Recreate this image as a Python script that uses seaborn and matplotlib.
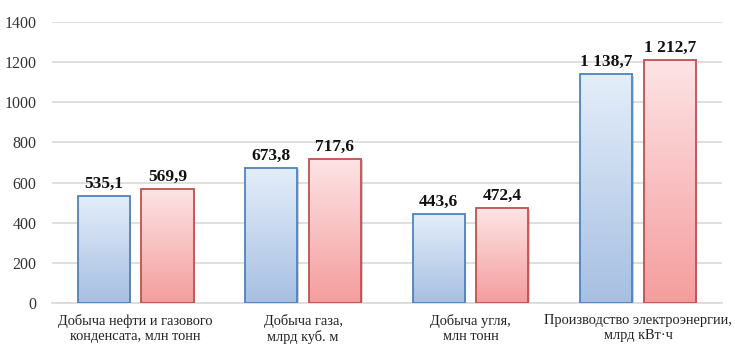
import numpy as np
import pandas as pd
import matplotlib
matplotlib.use("Agg")
import matplotlib.pyplot as plt
import matplotlib.transforms as mtransforms
from matplotlib.colors import LinearSegmentedColormap
from matplotlib.patches import Rectangle
import seaborn as sns

categories = ["Добыча нефти и газового\nконденсата, млн тонн",
              "Добыча газа,\nмлрд куб. м",
              "Добыча угля,\nмлн тонн",
              "Производство электроэнергии,\nмлрд кВт·ч"]
series = ["Ряд 1", "Ряд 2"]
values_1 = [535.1, 673.8, 443.6, 1138.7]
values_2 = [569.9, 717.6, 472.4, 1212.7]
yticks = [0, 200, 400, 600, 800, 1000, 1200, 1400]

df = pd.DataFrame({
    "cat": categories * 2,
    "series": [series[0]] * 4 + [series[1]] * 4,
    "value": values_1 + values_2,
})

sns.set_style("white")
plt.rcParams["font.family"] = ["Liberation Serif", "DejaVu Serif"]

fig = plt.figure(figsize=(7.35, 3.53), dpi=100)
ax = fig.add_axes([0.0707, 0.1416, 0.9113, 0.7961])

edge_cols = ["#4f81bd", "#c0504d"]
sns.barplot(data=df, x="cat", y="value", hue="series", order=categories,
            hue_order=series, palette=edge_cols, width=0.76, gap=0.18,
            legend=False, ax=ax, zorder=3)

# gradient fills
cmaps = [LinearSegmentedColormap.from_list("b", ["#a7bfe2", "#e4eef9"]),
         LinearSegmentedColormap.from_list("r", ["#f49d9d", "#fde4e6"])]
grad = np.linspace(0, 1, 256).reshape(-1, 1)
shadow_tr = mtransforms.offset_copy(ax.transData, fig=fig, x=1.5, y=-1.5, units="dots")
for i, cont in enumerate(ax.containers):
    for p in cont:
        x, y, w, h = p.get_x(), p.get_y(), p.get_width(), p.get_height()
        ax.add_patch(Rectangle((x, y), w, h, transform=shadow_tr,
                               facecolor="#000000", alpha=0.18, lw=0, zorder=2))
        im = ax.imshow(grad, extent=[x, x + w, y, y + h], origin="lower",
                       aspect="auto", cmap=cmaps[i], zorder=3.5)
        im.set_clip_path(p)
        p.set_facecolor("none")
        p.set_edgecolor(edge_cols[i])
        p.set_linewidth(1.3)
        p.set_zorder(4)

def fmt(v):
    s = f"{v:,.1f}".replace(",", " ").replace(".", ",")
    return s

for i, cont in enumerate(ax.containers):
    vals = values_1 if i == 0 else values_2
    ax.bar_label(cont, labels=[fmt(v) for v in vals], padding=3,
                 fontsize=12.5, fontweight="bold", color="#111111")

ax.set_xlim(-0.5, 3.5)
ax.set_ylim(0, 1400)
ax.set_yticks(yticks)
ax.set_yticklabels([str(t) for t in yticks], fontsize=11.5, color="#333333")
ax.tick_params(axis="y", length=0, pad=11)
ax.tick_params(axis="x", length=0, pad=8, labelsize=10.4, labelcolor="#222222")
ax.set_xlabel("")
ax.set_ylabel("")
ax.grid(axis="y", color="#d9d9d9", linewidth=1.2, zorder=0)
ax.set_axisbelow(True)
for s in ["top", "right", "left"]:
    ax.spines[s].set_visible(False)
ax.spines["bottom"].set_color("#d9d9d9")
ax.spines["bottom"].set_linewidth(1.2)

fig.savefig("out.png", dpi=100)
